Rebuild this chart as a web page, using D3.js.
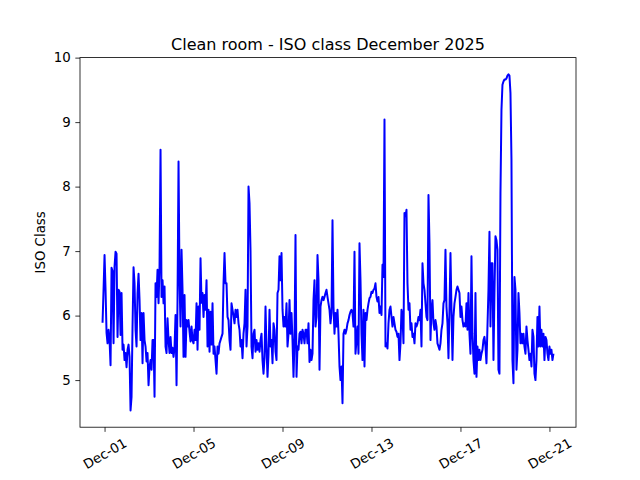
<!DOCTYPE html>
<html>
<head>
<meta charset="utf-8">
<script src="https://cdn.jsdelivr.net/npm/d3@7"></script>
<style>
  html, body { margin: 0; padding: 0; background: #fff; }
  svg { display: block; font-family: "DejaVu Sans", sans-serif; }
</style>
</head>
<body>
<svg id="chart" width="640" height="480"></svg>
<script>
// ---- data ----
const chartTitle = "Clean room - ISO class December 2025";
const yLabel = "ISO Class";
const startTime = "2025-11-30T21:50";
const endTime = "2025-12-21T04:20";
const xTickDates = ["2025-12-01", "2025-12-05", "2025-12-09", "2025-12-13", "2025-12-17", "2025-12-21"];
const yTickValues = [5, 6, 7, 8, 9, 10];
const isoValues = [
  5.89, 6.4, 6.94, 6.4, 5.73, 5.57, 5.78, 5.62, 5.23, 6.74,
  6.69, 5.57, 6.76, 6.99, 6.96, 5.67, 6.4, 6.37, 5.7, 6.35,
  5.47, 5.55, 5.31, 5.42, 5.2, 5.47, 5.55, 5.36, 4.53, 4.74,
  5.83, 6.75, 6.5, 5.78, 5.52, 6.35, 6.65, 6.24, 5.62, 6.04,
  5.26, 6.04, 5.62, 5.52, 5.29, 5.42, 4.92, 5.2, 5.31, 5.16,
  5.62, 5.62, 4.74, 6.5, 6.29, 6.71, 6.19, 6.76, 8.57, 6.29,
  6.55, 6.19, 6.45, 5.52, 5.42, 5.96, 5.62, 5.42, 5.67, 5.42,
  5.5, 5.36, 5.5, 6.01, 4.92, 6.24, 8.39, 6.55, 5.83, 7.02,
  6.4, 5.36, 6.32, 5.36, 5.93, 5.83, 5.93, 5.75, 5.6, 5.83,
  5.62, 5.57, 5.78, 5.62, 6.19, 5.47, 6.14, 5.78, 6.89, 6.2,
  6.35, 5.98, 6.32, 6.09, 6.55, 5.52, 6.09, 5.44, 6.06, 5.55,
  6.19, 5.41, 5.52, 5.31, 5.1, 5.52, 5.41, 5.57, 5.62, 5.67,
  5.72, 6.5, 6.97, 6.5, 6.5, 5.98, 5.93, 5.62, 5.47, 6.19,
  6.09, 6.0, 5.88, 6.09, 5.98, 6.09, 5.88, 5.78, 5.52, 5.62,
  5.34, 5.72, 5.88, 6.4, 5.52, 5.83, 8.0, 7.74, 7.0, 5.52,
  5.34, 5.72, 5.78, 5.44, 5.62, 5.47, 5.57, 5.44, 5.62, 5.72,
  5.31, 5.1, 5.35, 6.14, 5.5, 5.05, 5.4, 6.09, 5.52, 5.62,
  5.26, 5.88, 5.78, 5.44, 5.31, 6.35, 6.4, 6.92, 6.55, 6.97,
  6.1, 5.83, 5.98, 5.83, 6.19, 5.52, 5.72, 6.24, 5.72, 6.04,
  5.62, 5.05, 5.62, 7.25, 5.05, 5.52, 5.47, 5.72, 5.75, 5.57,
  5.78, 5.72, 5.57, 5.78, 5.78, 5.57, 5.88, 5.28, 5.47, 5.31,
  5.41, 6.24, 6.55, 5.83, 5.98, 6.94, 6.55, 5.16, 6.14, 6.24,
  6.29, 6.24, 6.29, 6.35, 6.4, 6.29, 6.19, 6.09, 5.88, 6.04,
  7.48, 6.14, 5.72, 6.04, 5.83, 6.09, 5.72, 5.21, 5.0, 5.21,
  4.64, 5.72, 5.78, 5.72, 5.78, 5.88, 5.93, 6.01, 6.06, 6.09,
  6.04, 5.83, 6.99, 5.41, 5.62, 5.83, 5.41, 7.12, 6.55, 5.72,
  5.31, 6.09, 5.21, 6.04, 5.93, 6.09, 6.19, 6.27, 6.29, 6.37,
  6.35, 6.4, 6.42, 6.5, 6.29, 6.22, 6.29, 6.04, 6.14, 6.01,
  6.79, 6.6, 9.04, 5.52, 5.57, 5.49, 5.88, 6.09, 6.14, 5.98,
  5.83, 5.98, 5.88, 5.78, 5.75, 5.67, 5.72, 5.31, 5.57, 6.09,
  5.98, 5.57, 7.59, 7.54, 7.64, 6.5, 6.09, 6.19, 5.78, 5.88,
  5.67, 5.72, 5.57, 5.88, 5.83, 5.88, 5.98, 5.93, 6.09, 5.52,
  6.81, 6.5, 6.4, 6.19, 5.98, 5.93, 7.87, 7.12, 5.62, 6.09,
  6.24, 5.88, 5.78, 5.93, 5.83, 5.57, 5.52, 5.47, 5.57, 5.78,
  5.88, 6.19, 6.24, 7.02, 6.14, 5.88, 5.34, 6.09, 6.97, 6.09,
  5.31, 5.98, 6.19, 6.29, 6.4, 6.45, 6.4, 6.35, 5.98, 6.14,
  5.93, 5.83, 5.88, 5.83, 6.19, 5.78, 6.35, 5.72, 5.41, 6.92,
  5.72, 5.31, 5.1, 6.35, 5.05, 5.52, 5.31, 5.47, 5.31, 5.41,
  5.47, 5.62, 5.67, 5.52, 5.26, 5.83, 6.4, 7.3, 5.83, 6.81,
  6.81, 5.31, 6.35, 7.23, 7.17, 7.02, 5.16, 5.1, 7.9, 9.19,
  9.58, 9.63, 9.66, 9.66, 9.68, 9.72, 9.74, 9.72, 9.45, 8.42,
  5.31, 4.95, 6.6, 6.4, 5.16, 5.47, 6.35, 6.04, 5.57, 5.72,
  5.57, 5.72, 5.52, 5.41, 5.83, 5.62, 5.47, 5.31, 5.41, 5.21,
  5.78, 5.67, 5.1, 5.0, 5.31, 5.98, 5.52, 6.14, 5.52, 5.78,
  5.52, 5.72, 5.31, 5.67, 5.62, 5.41, 5.31, 5.52, 5.41, 5.47,
  5.31, 5.41
];

// ---- layout (matplotlib default figure 6.4x4.8 @100dpi) ----
const W = 640, H = 480;
const mLeft = 80, mRight = 576, mTop = 57.6, mBottom = 427.2;

const parse = d3.utcParse("%Y-%m-%dT%H:%M");
const parseDay = d3.utcParse("%Y-%m-%d");
const t0 = parse(startTime), t1 = parse(endTime);
const n = isoValues.length;
const data = isoValues.map((v, i) => ({
  t: new Date(+t0 + (t1 - t0) * i / (n - 1)),
  v: v
}));

// 5% margins like matplotlib autoscale
const tSpan = t1 - t0;
const x = d3.scaleUtc()
  .domain([new Date(+t0 - 0.05 * tSpan), new Date(+t1 + 0.05 * tSpan)])
  .range([mLeft, mRight]);
const [vmin, vmax] = d3.extent(isoValues);
const vSpan = vmax - vmin;
const y = d3.scaleLinear()
  .domain([vmin - 0.05 * vSpan, vmax + 0.05 * vSpan])
  .range([mBottom, mTop]);

const svg = d3.select("#chart");
svg.append("rect").attr("width", W).attr("height", H).attr("fill", "#fff");

svg.append("clipPath").attr("id", "clip")
  .append("rect").attr("x", mLeft).attr("y", mTop)
  .attr("width", mRight - mLeft).attr("height", mBottom - mTop);

// line
const line = d3.line().x(d => x(d.t)).y(d => y(d.v));
svg.append("path")
  .datum(data)
  .attr("clip-path", "url(#clip)")
  .attr("fill", "none")
  .attr("stroke", "#0000ff")
  .attr("stroke-width", 2)
  .attr("stroke-linejoin", "round")
  .attr("d", line);

// axes
const fmt = d3.utcFormat("%b-%d");
const xAxis = d3.axisBottom(x)
  .tickValues(xTickDates.map(parseDay))
  .tickFormat(fmt)
  .tickSizeOuter(0)
  .tickSizeInner(4.67)
  .tickPadding(4.67);
const gx = svg.append("g")
  .attr("transform", `translate(0,${mBottom})`)
  .call(xAxis);
gx.select(".domain").remove();
gx.selectAll(".tick line").attr("stroke", "#000").attr("stroke-width", 0.8);
gx.selectAll(".tick text")
  .attr("fill", "#000")
  .style("font-size", "13.33px")
  .style("font-family", "DejaVu Sans")
  .attr("text-anchor", "middle")
  .attr("dy", null)
  .attr("y", null)
  .attr("dominant-baseline", "central")
  .attr("transform", "translate(0,26.5) rotate(-30)");

const yAxis = d3.axisLeft(y)
  .tickValues(yTickValues)
  .tickFormat(d3.format("d"))
  .tickSizeOuter(0)
  .tickSizeInner(4.67)
  .tickPadding(4.67);
const gy = svg.append("g")
  .attr("transform", `translate(${mLeft},0)`)
  .call(yAxis);
gy.select(".domain").remove();
gy.selectAll(".tick line").attr("stroke", "#000").attr("stroke-width", 0.8);
gy.selectAll(".tick text")
  .attr("fill", "#000")
  .style("font-size", "13.33px")
  .style("font-family", "DejaVu Sans");

// frame
svg.append("rect")
  .attr("x", mLeft).attr("y", mTop)
  .attr("width", mRight - mLeft).attr("height", mBottom - mTop)
  .attr("fill", "none").attr("stroke", "#000").attr("stroke-width", 0.8);

// title
svg.append("text")
  .attr("x", (mLeft + mRight) / 2).attr("y", mTop - 8)
  .attr("text-anchor", "middle")
  .style("font-size", "16px")
  .style("font-family", "DejaVu Sans")
  .attr("fill", "#000")
  .text(chartTitle);

// y label
svg.append("text")
  .attr("transform", `translate(45,${(mTop + mBottom) / 2}) rotate(-90)`)
  .attr("text-anchor", "middle")
  .style("font-size", "13.33px")
  .style("font-family", "DejaVu Sans")
  .attr("fill", "#000")
  .text(yLabel);
</script>
</body>
</html>
